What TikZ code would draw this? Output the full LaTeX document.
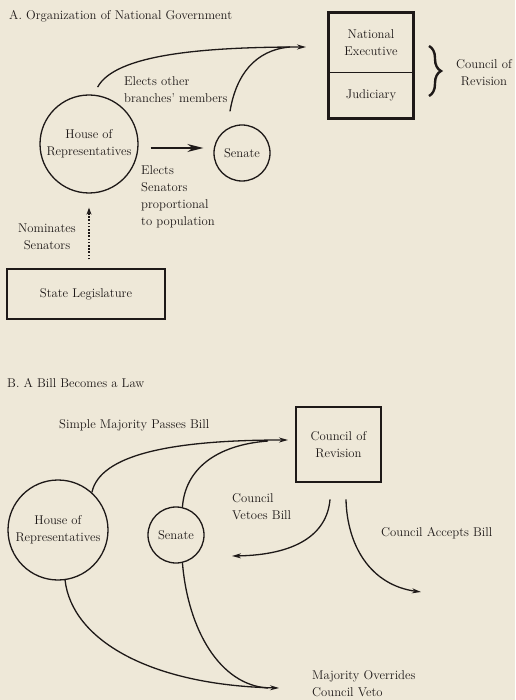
\documentclass[tikz,border=0pt]{standalone}
\usepackage{amsmath}
\usepackage{tikz}
\usetikzlibrary{arrows.meta}
\usetikzlibrary{calc}
\usetikzlibrary{decorations.pathreplacing}
\usetikzlibrary{positioning}

\definecolor{paper}{RGB}{238,232,216}
\definecolor{ink}{RGB}{30,25,24}

\begin{document}
\begin{tikzpicture}[x=1pt,y=-1pt,
        every node/.style={font=\fontsize{12.7}{16.8}\selectfont,text=ink},
        body/.style={circle,draw=ink,line width=1.3pt,inner sep=0pt},
        board/.style={draw=ink,line width=2.8pt,inner sep=0pt},
        lbl/.style={align=left,anchor=west,inner sep=0pt},
        flow/.style={draw=ink,line width=1.3pt,-{Stealth[length=9pt,width=5pt]}},
        feeder/.style={draw=ink,line width=1.3pt}]
        \fill[paper] (0,0) rectangle (515,700);

        % A. national government
        \node[lbl] (titleA) at (9,16) {A. Organization of National Government};
        \node[minimum width=84pt,minimum height=59pt,align=center] (exec) at (371,42.5) {National\\Executive};
        \node[minimum width=84pt,minimum height=45pt] (jud) at (371,95.5) {Judiciary};
        \draw[board] (exec.north west) rectangle (jud.south east);
        \draw[ink,line width=1.2pt] (exec.south west) -- (exec.south east);
        \draw[ink,line width=2.4pt,decorate,decoration={brace,amplitude=12pt}] (429,46) -- (429,96);
        \node[align=center] (crA) at (484,73) {Council of\\Revision};

        \node[body,minimum size=98pt,align=center] (hA) at (89,144) {House of\\Representatives};
        \node[body,minimum size=56pt] (sA) at (242,153) {Senate};
        \node[draw=ink,line width=1.3pt,minimum width=158pt,minimum height=50pt] (state) at (86,294) {State Legislature};

        \coordinate (toExec) at (306,47);
        \coordinate (mergeA) at (290,47);
        \draw[flow] ([yshift=8pt]hA.80) .. controls (115,55) and (200,47) .. (toExec);
        \draw[feeder] ([shift={(-12pt,13pt)}]sA.north) .. controls (236,75) and (255,50) .. (mergeA);
        \draw[flow,line width=2pt,-{Stealth[length=16pt,width=8pt]}] ([shift={(12pt,-4pt)}]hA.east) -- ([shift={(-10pt,5pt)}]sA.west);
        \draw[flow,line width=2pt,dash pattern=on 1.6pt off 1.6pt,-{Stealth[length=7pt,width=5pt]}] ([xshift=3pt,yshift=9pt]state.north) -- ([yshift=-14pt]hA.south);

        \node[lbl] (elOther) at (124,89.5) {Elects other\\branches' members};
        \node[lbl] (elSen) at (141,197) {Elects\\Senators\\proportional\\to population};
        \node[align=center] (nomin) at (47,236.5) {Nominates\\Senators};

        % B. bill becomes law
        \node[lbl] (titleB) at (7,383) {B. A Bill Becomes a Law};
        \node[lbl] (simple) at (59,425) {Simple Majority Passes Bill};
        \node[board,minimum width=85pt,minimum height=75pt,align=center] (revB) at (338.5,444.5) {Council of\\Revision};
        \node[body,minimum size=100pt,align=center] (hB) at (58,530) {House of\\Representatives};
        \node[body,minimum size=56pt] (sB) at (176,535) {Senate};

        \coordinate (toRev) at (288,440);
        \coordinate (mergeB) at (268,441);
        \coordinate (toSen) at (232,556);
        \coordinate (accept) at (421,592);
        \coordinate (override) at (279,688);
        \coordinate (mergeC) at (268,688);
        \draw[flow] (hB.48) .. controls (100,455) and (170,440) .. (toRev);
        \draw[feeder] (sB.77) .. controls (185,470) and (215,445) .. (mergeB);
        \draw[flow] ([shift={(-8.5pt,-16pt)}]revB.south) .. controls (327,535) and (295,555) .. (toSen);
        \draw[flow] ([shift={(7.5pt,-16pt)}]revB.south) .. controls (347,545) and (370,585) .. (accept);
        \draw[flow] (hB.-82) .. controls (72,640) and (150,685) .. (override);
        \draw[feeder] (sB.-77) .. controls (188,630) and (220,685) .. (mergeC);

        \node[lbl] (veto) at (232,507) {Council\\Vetoes Bill};
        \node[lbl] (acc) at (381,533) {Council Accepts Bill};
        \node[lbl] (maj) at (312,683.5) {Majority Overrides\\Council Veto};
\end{tikzpicture}
\end{document}
